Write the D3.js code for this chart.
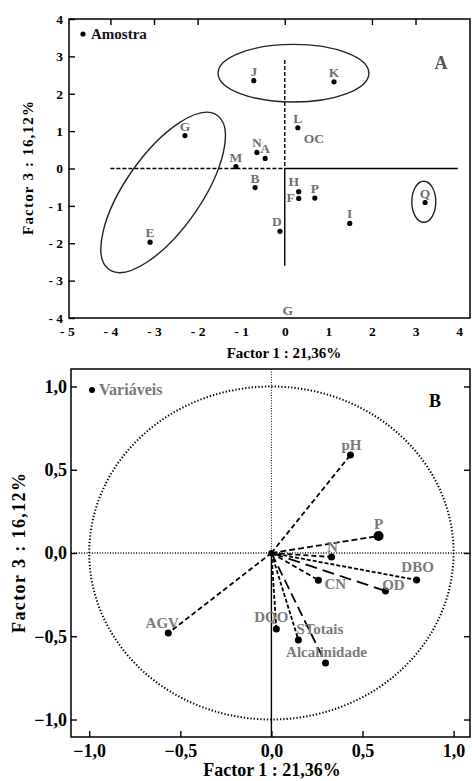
<!DOCTYPE html>
<html>
<head>
<meta charset="utf-8">
<script src="https://cdn.jsdelivr.net/npm/d3@7"></script>
<style>
  body { margin: 0; background: #fff; }
  svg { display: block; font-family: "Liberation Serif", "DejaVu Serif", serif; font-weight: bold; }
</style>
</head>
<body>
<svg width="472" height="781"></svg>
<script>
// ---- panel A : samples (Factor 1 x Factor 3)
var amostras = ["G", "M", "N", "A", "B", "L", "H", "F", "P", "D", "I", "Q", "J", "K", "E"];
var f1Amostra = [-2.29, -1.12, -0.64, -0.45, -0.68, 0.30, 0.32, 0.32, 0.69, -0.11, 1.49, 3.22, -0.71, 1.13, -3.09];
var f3Amostra = [0.88, 0.05, 0.43, 0.27, -0.51, 1.09, -0.62, -0.80, -0.79, -1.68, -1.47, -0.91, 2.35, 2.32, -1.97];
// labels printed without a marker
var soltosTxt = ["OC", "G"];
var soltosF1 = [0.67, 0.07];
var soltosF3 = [0.69, -3.92];
var ticksA_x = [-5, -4, -3, -2, -1, 0, 1, 2, 3, 4];
var ticksA_y = [-4, -3, -2, -1, 0, 1, 2, 3, 4];
var ticksA_top = [-4, -3, -2, 0, 2, 3];

// groups circled on panel A: centre, radii (axis units), rotation
var grupos = [
    { cx: -2.79, cy: -0.64, rx: 2.16, ry: 1.01, rot: -55 },
    { cx: 0.20, cy: 2.55, rx: 1.73, ry: 0.77, rot: 0 },
    { cx: 3.19, cy: -0.89, rx: 0.275, ry: 0.55, rot: 0 }
];

// ---- panel B : variables
var variaveis = ["pH", "P", "N", "DBO", "CN", "OD", "DQO", "STotais", "Alcalinidade", "AGV"];
var f1Var = [0.434, 0.588, 0.330, 0.797, 0.258, 0.626, 0.027, 0.148, 0.297, -0.566];
var f3Var = [0.589, 0.102, -0.024, -0.162, -0.163, -0.228, -0.456, -0.522, -0.661, -0.481];
var ticksB = [-1, -0.5, 0, 0.5, 1];

var svg = d3.select("svg");
var cinza = "#6e6e6e";

// ================= panel A =================
var xA = d3.scaleLinear().domain([-4.95, 4.25]).range([69, 470]);
var yA = d3.scaleLinear().domain([-4, 4]).range([318, 19]);
var gA = svg.append("g");

var fmtA = d => d < 0 ? "- " + (-d) : "" + d;

gA.append("g")
    .attr("transform", "translate(" + xA.range()[0] + ",0)")
    .call(d3.axisLeft(yA).tickValues(ticksA_y).tickSize(-6).tickPadding(6).tickFormat(fmtA));
gA.append("g")
    .attr("transform", "translate(0," + yA.range()[0] + ")")
    .call(d3.axisBottom(xA).tickValues(ticksA_x).tickSize(0).tickPadding(8).tickFormat(fmtA));
gA.append("g")
    .attr("transform", "translate(0," + yA.range()[1] + ")")
    .call(d3.axisTop(xA).tickValues(ticksA_top).tickSize(-6).tickFormat(""));
gA.selectAll(".tick text").attr("font-size", 13.5).attr("font-family", "Liberation Serif").attr("font-weight", "bold");
gA.selectAll(".tick line").attr("stroke-width", 1.4);
gA.selectAll(".domain").remove();

gA.append("rect")
    .attr("x", xA.range()[0]).attr("y", yA.range()[1])
    .attr("width", xA.range()[1] - xA.range()[0]).attr("height", yA.range()[0] - yA.range()[1])
    .attr("fill", "none").attr("stroke", "#000").attr("stroke-width", 1.5);

// cross through origin: dashed on the negative side, solid on the positive side
gA.append("line").attr("x1", xA(-4)).attr("x2", xA(0)).attr("y1", yA(0)).attr("y2", yA(0))
    .attr("stroke", "#000").attr("stroke-width", 1.4).attr("stroke-dasharray", "4,2");
gA.append("line").attr("x1", xA(0)).attr("x2", xA(3.97)).attr("y1", yA(0)).attr("y2", yA(0))
    .attr("stroke", "#000").attr("stroke-width", 1.4);
gA.append("line").attr("x1", xA(0)).attr("x2", xA(0)).attr("y1", yA(2.9)).attr("y2", yA(0))
    .attr("stroke", "#000").attr("stroke-width", 1.4).attr("stroke-dasharray", "4,2");
gA.append("line").attr("x1", xA(0)).attr("x2", xA(0)).attr("y1", yA(0)).attr("y2", yA(-2.6))
    .attr("stroke", "#000").attr("stroke-width", 1.4);

gA.selectAll("ellipse.grupo")
    .data(grupos)
    .enter()
    .append("ellipse")
    .attr("class", "grupo")
    .attr("cx", 0).attr("cy", 0)
    .attr("rx", d => xA(d.cx + d.rx) - xA(d.cx))
    .attr("ry", d => yA(d.cy) - yA(d.cy + d.ry))
    .attr("transform", d => "translate(" + xA(d.cx) + "," + yA(d.cy) + ") rotate(" + d.rot + ")")
    .attr("fill", "none").attr("stroke", "#222").attr("stroke-width", 1.4);

var dadosA = amostras.map((n, i) => ({ nome: n, x: f1Amostra[i], y: f3Amostra[i] }));
var ajusteA = { H: [-5, -6], F: [-8, 4], D: [-3, -5] };

gA.selectAll("circle.amostra")
    .data(dadosA)
    .enter()
    .append("circle")
    .attr("class", "amostra")
    .attr("r", 2.6)
    .attr("cx", d => xA(d.x))
    .attr("cy", d => yA(d.y))
    .attr("fill", "#000");

gA.selectAll("text.rotA")
    .data(dadosA)
    .enter()
    .append("text")
    .attr("class", "rotA")
    .attr("x", d => xA(d.x) + (ajusteA[d.nome] ? ajusteA[d.nome][0] : 0))
    .attr("y", d => yA(d.y) + (ajusteA[d.nome] ? ajusteA[d.nome][1] : -5))
    .attr("text-anchor", "middle")
    .attr("font-size", 13.5)
    .attr("fill", cinza)
    .text(d => d.nome);

gA.selectAll("text.solto")
    .data(soltosTxt)
    .enter()
    .append("text")
    .attr("class", "solto")
    .attr("x", (d, i) => xA(soltosF1[i]))
    .attr("y", (d, i) => yA(soltosF3[i]))
    .attr("text-anchor", "middle")
    .attr("font-size", 13.5)
    .attr("fill", cinza)
    .text(d => d);

gA.append("circle").attr("cx", 83).attr("cy", 34).attr("r", 2.6).attr("fill", "#000");
gA.append("text").attr("x", 91).attr("y", 39).attr("font-size", 15).attr("fill", "#111").text("Amostra");
gA.append("text").attr("x", 441).attr("y", 69).attr("text-anchor", "middle").attr("font-size", 18).attr("fill", "#555").text("A");

gA.append("text").attr("x", 284).attr("y", 358).attr("text-anchor", "middle").attr("font-size", 15).text("Factor 1 : 21,36%");
gA.append("text").attr("transform", "translate(28,168) rotate(-90)").attr("dy", "0.35em")
    .attr("text-anchor", "middle").attr("font-size", 15).attr("textLength", 134).text("Factor 3 : 16,12%");

// ================= panel B =================
var xB = d3.scaleLinear().domain([-1.1, 1.09]).range([71, 470]);
var yB = d3.scaleLinear().domain([-1.105, 1.105]).range([737, 369]);
var gB = svg.append("g");
var fmtB = d => d3.format(".1f")(d).replace(".", ",");

gB.append("g")
    .attr("transform", "translate(" + xB.range()[0] + ",0)")
    .call(d3.axisLeft(yB).tickValues(ticksB).tickSize(-6).tickPadding(4).tickFormat(fmtB));
gB.append("g")
    .attr("transform", "translate(" + xB.range()[1] + ",0)")
    .call(d3.axisRight(yB).tickValues(ticksB).tickSize(-6).tickFormat(""));
gB.append("g")
    .attr("transform", "translate(0," + yB.range()[0] + ")")
    .call(d3.axisBottom(xB).tickValues(ticksB).tickSize(-6).tickPadding(7).tickFormat(fmtB));
gB.selectAll(".tick text").attr("font-size", 18).attr("font-family", "Liberation Serif").attr("font-weight", "bold");
gB.selectAll(".tick line").attr("stroke-width", 1.4);
gB.selectAll(".domain").remove();

gB.append("rect")
    .attr("x", xB.range()[0]).attr("y", yB.range()[1])
    .attr("width", xB.range()[1] - xB.range()[0]).attr("height", yB.range()[0] - yB.range()[1])
    .attr("fill", "none").attr("stroke", "#000").attr("stroke-width", 1.5);

// unit circle and reference axes
gB.append("ellipse")
    .attr("cx", xB(0)).attr("cy", yB(0))
    .attr("rx", xB(1) - xB(0)).attr("ry", yB(0) - yB(1))
    .attr("fill", "none").attr("stroke", "#000").attr("stroke-width", 2).attr("stroke-dasharray", "1.3,2");
gB.append("line").attr("x1", xB.range()[0]).attr("x2", xB.range()[1]).attr("y1", yB(0)).attr("y2", yB(0))
    .attr("stroke", "#000").attr("stroke-width", 1.3).attr("stroke-dasharray", "1,1.6");
gB.append("line").attr("x1", xB(0)).attr("x2", xB(0)).attr("y1", yB.range()[1]).attr("y2", yB(0))
    .attr("stroke", "#000").attr("stroke-width", 1).attr("stroke-dasharray", "1,1.6");
gB.append("line").attr("x1", xB(0)).attr("x2", xB(0)).attr("y1", yB(0)).attr("y2", yB.range()[0])
    .attr("stroke", "#000").attr("stroke-width", 1.4);

var dadosB = variaveis.map((n, i) => ({ nome: n, x: f1Var[i], y: f3Var[i] }));
var tracos = { pH: "5,3", P: "6,3", N: "5,3", DBO: "4,2", CN: "5,3", OD: "12,6",
    DQO: "4,2", STotais: "4,2", Alcalinidade: "10,5", AGV: "5,3" };
// label offsets [dx, dy, anchor]
var ajusteB = {
    pH: [1, -5, "middle"], P: [0, -7, "middle"], N: [1, -5, "middle"], DBO: [1, -8, "middle"],
    CN: [6, 9, "start"], OD: [8, -1, "middle"], DQO: [-5, -7, "middle"], STotais: [-2, -6, "start"],
    Alcalinidade: [1, -6, "middle"], AGV: [-6, -5, "middle"]
};

gB.selectAll("line.vetor")
    .data(dadosB)
    .enter()
    .append("line")
    .attr("class", "vetor")
    .attr("x1", xB(0)).attr("y1", yB(0))
    .attr("x2", d => xB(d.x)).attr("y2", d => yB(d.y))
    .attr("stroke", "#000").attr("stroke-width", 1.8)
    .attr("stroke-dasharray", d => tracos[d.nome]);

gB.selectAll("circle.var")
    .data(dadosB)
    .enter()
    .append("circle")
    .attr("class", "var")
    .attr("r", d => d.nome == "P" ? 5 : 3.5)
    .attr("cx", d => xB(d.x))
    .attr("cy", d => yB(d.y))
    .attr("fill", "#000");

gB.append("circle").attr("cx", xB(0)).attr("cy", yB(0)).attr("r", 3).attr("fill", "#000");

gB.selectAll("text.rotB")
    .data(dadosB)
    .enter()
    .append("text")
    .attr("class", "rotB")
    .attr("x", d => xB(d.x) + ajusteB[d.nome][0])
    .attr("y", d => yB(d.y) + ajusteB[d.nome][1])
    .attr("text-anchor", d => ajusteB[d.nome][2])
    .attr("font-size", 15)
    .attr("fill", "#7a7a7a")
    .text(d => d.nome);

gB.append("circle").attr("cx", 92).attr("cy", 390).attr("r", 3).attr("fill", "#000");
gB.append("text").attr("x", 99).attr("y", 395).attr("font-size", 16).attr("fill", "#777").text("Variáveis");
gB.append("text").attr("x", 435).attr("y", 407).attr("text-anchor", "middle").attr("font-size", 18).attr("fill", "#000").text("B");

gB.append("text").attr("x", 272).attr("y", 776).attr("text-anchor", "middle").attr("font-size", 18).text("Factor 1 : 21,36%");
gB.append("text").attr("transform", "translate(19,553) rotate(-90)").attr("dy", "0.35em")
    .attr("text-anchor", "middle").attr("font-size", 18).attr("textLength", 160).text("Factor 3 : 16,12%");
</script>
</body>
</html>
